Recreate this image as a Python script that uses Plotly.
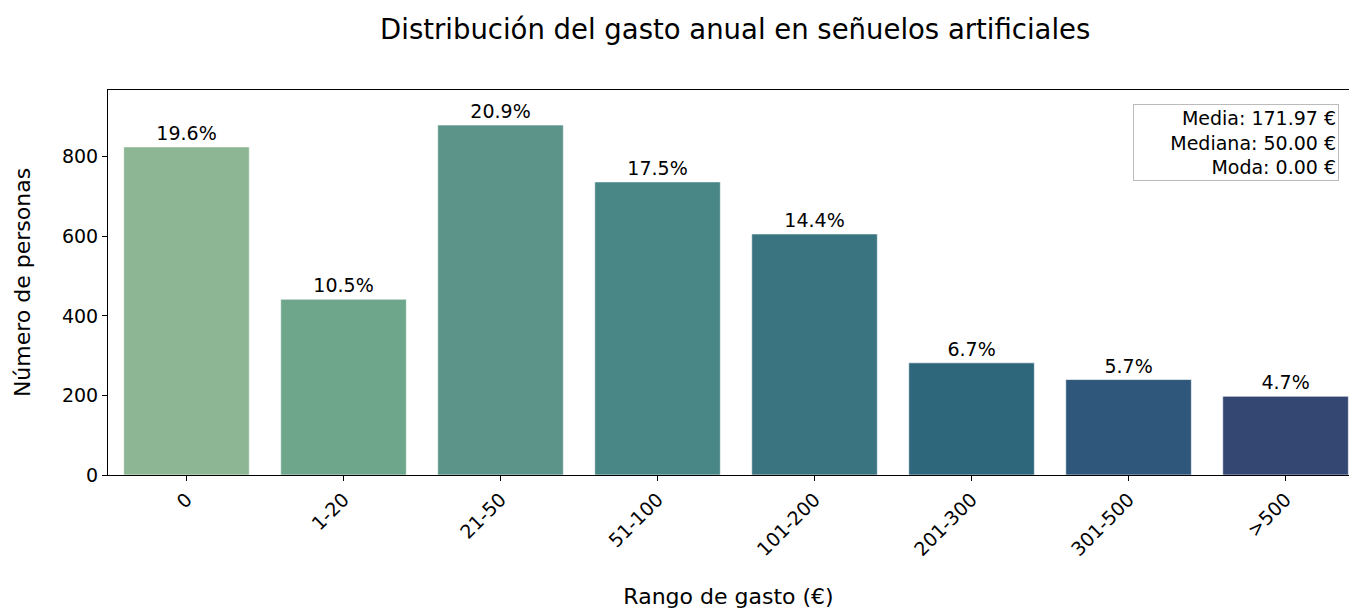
import plotly.graph_objects as go

# datos
rangos = ["0", "1-20", "21-50", "51-100", "101-200", "201-300", "301-500", ">500"]
personas = [825, 442, 880, 737, 606, 282, 240, 198]
colores = ["#8DB794", "#6EA68C", "#5C9489", "#488785",
           "#3A7481", "#2E667C", "#2E577B", "#344772"]
media = 171.97
mediana = 50.00
moda = 0.00

total = sum(personas)
etiquetas = [f"{p / total * 100:.1f}%" for p in personas]

FUENTE = "DejaVu Sans"

fig = go.Figure(go.Bar(
    x=rangos, y=personas,
    marker=dict(color=colores, line=dict(color="rgba(255,255,255,0.6)", width=1)),
    width=0.8,
    text=etiquetas, textposition="outside", cliponaxis=False,
    textfont=dict(size=19, color="black", family=FUENTE),
))

fig.update_layout(
    width=1349, height=609,
    margin=dict(l=108, r=0, t=90, b=134, autoexpand=False),
    plot_bgcolor="white", paper_bgcolor="white",
    font=dict(family=FUENTE, color="black", size=19),
    showlegend=False,
    title=dict(text="Distribución del gasto anual en señuelos artificiales",
               x=0.545, xanchor="center", y=0.951, yanchor="middle",
               font=dict(size=27.5, family=FUENTE, color="black")),
    bargap=0.2,
)

fig.update_xaxes(
    range=[-0.5, 7.404], automargin=False,
    showline=True, linecolor="black", linewidth=1, mirror=True,
    ticks="outside", ticklen=5, tickcolor="black",
    tickangle=-45, tickfont=dict(size=19),
    title=dict(text="Rango de gasto (€)", font=dict(size=22), standoff=29),
    showgrid=False,
)
fig.update_yaxes(
    range=[0, 968], automargin=False,
    tickvals=[0, 200, 400, 600, 800],
    showline=True, linecolor="black", linewidth=1,
    ticks="outside", ticklen=5, tickcolor="black",
    tickfont=dict(size=19),
    title=dict(text="Número de personas", font=dict(size=22), standoff=25),
    showgrid=False, zeroline=False,
)

fig.add_annotation(
    xref="paper", yref="paper", x=0.992, y=0.964, xanchor="right", yanchor="top",
    text=f"Media: {media:.2f} €<br>Mediana: {mediana:.2f} €<br>Moda: {moda:.2f} €",
    align="right", showarrow=False, width=200,
    font=dict(size=19, family=FUENTE, color="black"),
    bordercolor="#bbbbbb", borderwidth=1, borderpad=2, bgcolor="white",
)

# quitar el margen del body para que la figura empiece en (0, 0)
fig.write_html("out.html", config={"displayModeBar": False},
               post_script="document.body.style.margin='0';")
